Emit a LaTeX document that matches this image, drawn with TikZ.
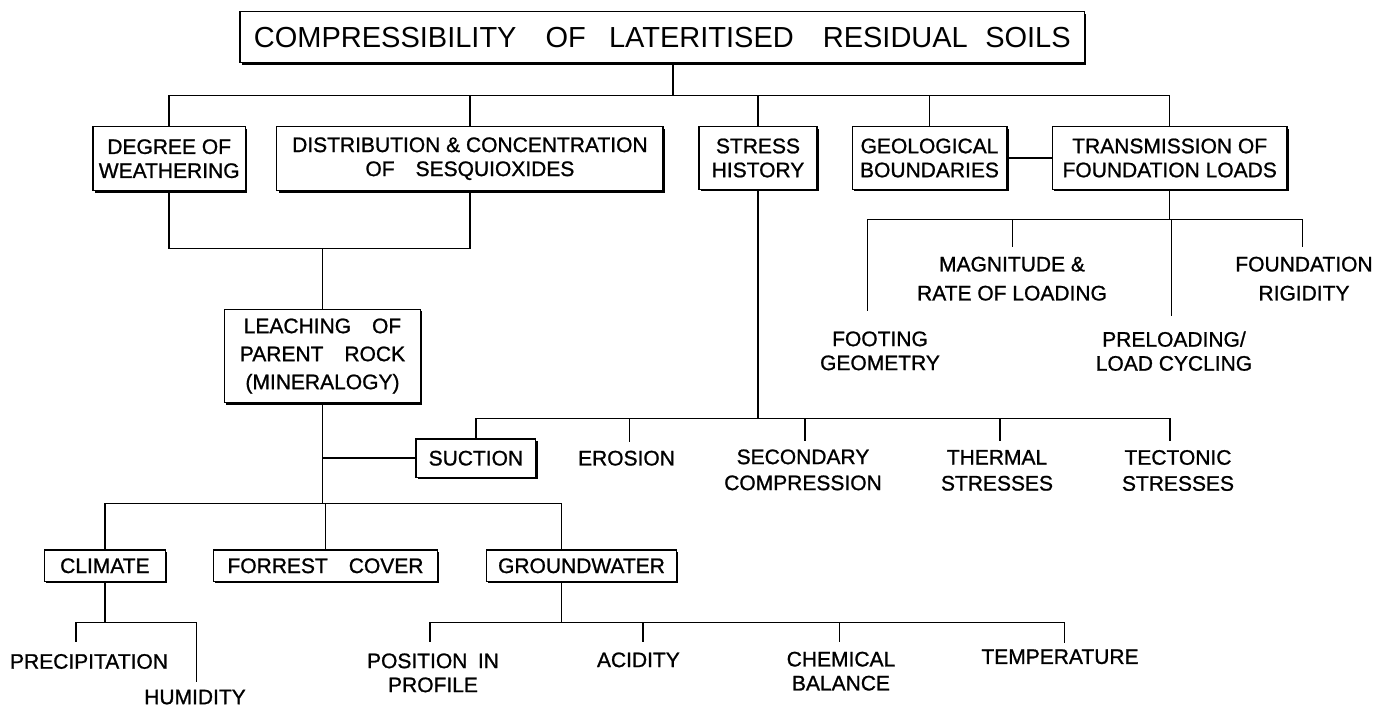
\documentclass[tikz,border=0pt]{standalone}
\usepackage{fontspec}
\setmainfont{Liberation Sans}
\newfontfamily\lblfam[FakeBold=1]{Liberation Sans}
\usetikzlibrary{shadows}
\newcommand{\lblfont}{\lblfam\fontsize{21}{24}\selectfont}
\def\stem(#1)(#2)(#3:#4){\path ([xshift=#3pt]#1.north) coordinate (#1s); \draw (#1s |- #2) -- ([yshift=#4pt]#1s);}

\begin{document}
\begin{tikzpicture}[x=1pt,y=-1pt,line width=1.5pt,line cap=rect,
	box/.style={draw,fill=white,line width=1.3pt,font=\lblfont,align=center,inner sep=0pt,
		drop shadow={shadow xshift=1.8pt,shadow yshift=-1.8pt,opacity=1,fill=black}},
	leaf/.style={font=\lblfont,align=center,inner sep=0pt,anchor=north}]
		%%%%% START %%%%%
		\useasboundingbox (0,0) rectangle (1385,707);
		
		\coordinate (topbus) at (0,95.7);
		\coordinate (fbus) at (0,219.3);
		\coordinate (jbus) at (0,248.3);
		\coordinate (sbus) at (0,418.7);
		\coordinate (lbus) at (0,503.3);
		\coordinate (cbus) at (0,622.7);
		\coordinate (gbus) at (0,622.7);
		
		\node[box,minimum width=844.7pt,minimum height=51pt,font=\fontsize{29}{30}\selectfont] (title) at (662.3,37.2)
			{COMPRESSIBILITY\hspace{1em}OF\hspace{.8em}LATERITISED\hspace{1em}RESIDUAL\hspace{.6em}SOILS};
		
		\node[box,minimum width=152.6pt,minimum height=64pt] (deg) at (169.2,158.7) {DEGREE OF\\WEATHERING};
		\node[box,minimum width=386.2pt,minimum height=64pt] (dist) at (469.9,158.7) {DISTRIBUTION \& CONCENTRATION\\OF\quad SESQUIOXIDES};
		\node[box,minimum width=118.2pt,minimum height=62.6pt] (stress) at (758,158) {STRESS\\HISTORY};
		\node[box,minimum width=154.7pt,minimum height=62.6pt] (geo) at (929.5,158) {GEOLOGICAL\\BOUNDARIES};
		\node[box,minimum width=234.7pt,minimum height=62.6pt] (trans) at (1169.7,158) {TRANSMISSION OF\\FOUNDATION LOADS};
		
		\node[box,minimum width=195.9pt,minimum height=93.4pt,font=\lblfam\fontsize{21}{28}\selectfont] (leach) at (322.5,356)
			{LEACHING\quad OF\\PARENT\quad ROCK\\(MINERALOGY)};
		\node[box,minimum width=119.7pt,minimum height=38.3pt] (suction) at (475.9,458.2) {SUCTION};
		
		\node[box,minimum width=120.6pt,minimum height=31.7pt] (climate) at (104.9,565.8) {CLIMATE};
		\node[box,minimum width=224.1pt,minimum height=31.7pt] (forrest) at (325.5,565.8) {FORREST\quad COVER};
		\node[box,minimum width=189.7pt,minimum height=31.7pt] (gw) at (581.5,565.8) {GROUNDWATER};
		
		\node[leaf,font=\lblfam\fontsize{21}{29}\selectfont] (mag) at (1012,256) {MAGNITUDE \&\\RATE OF LOADING};
		\node[leaf,font=\lblfam\fontsize{21}{29}\selectfont] (found) at (1304,256) {FOUNDATION\\RIGIDITY};
		\node[leaf] (foot) at (880,330.7) {FOOTING\\GEOMETRY};
		\node[leaf] (prel) at (1174,330.7) {PRELOADING/\\LOAD CYCLING};
		
		\node[leaf] (erosion) at (626.5,450) {EROSION};
		\node[leaf,font=\lblfam\fontsize{21}{26}\selectfont] (second) at (803,448.7) {SECONDARY\\COMPRESSION};
		\node[leaf,font=\lblfam\fontsize{21}{26}\selectfont] (thermal) at (997,449.3) {THERMAL\\STRESSES};
		\node[leaf,font=\lblfam\fontsize{21}{26}\selectfont] (tect) at (1178,449.3) {TECTONIC\\STRESSES};
		
		\node[leaf] (precip) at (89,653.3) {PRECIPITATION};
		\node[leaf] (humid) at (195,689) {HUMIDITY};
		\node[leaf] (pos) at (433,652.7) {POSITION\enspace IN\\PROFILE};
		\node[leaf] (acid) at (638.4,651.7) {ACIDITY};
		\node[leaf] (chem) at (841,651) {CHEMICAL\\BALANCE};
		\node[leaf] (temp) at (1060,648.7) {TEMPERATURE};
		
		% first row
		\path ([xshift=10.5pt]title.south) coordinate (titles);
		\draw (titles) -- (titles |- topbus);
		\draw (deg.north) -- (deg.north |- topbus) -- (trans.north |- topbus) -- (trans.north);
		\foreach \n in {dist,stress,geo} \draw (\n.north) -- (\n.north |- topbus);
		\draw (geo) -- (trans);
		
		% foundation loads
		\draw (trans.south) -- (trans.south |- fbus);
		\stem(foot)(fbus)(-12.5:20)
		\stem(mag)(fbus)(0.7:10)
		\stem(prel)(fbus)(-2.5:15.7)
		\stem(found)(fbus)(-1.3:9.3)
		\draw (foots |- fbus) -- (founds |- fbus);
		
		% leaching
		\draw (deg.south) -- (deg.south |- jbus) -- (dist.south |- jbus) -- (dist.south);
		\draw (leach.north) -- (leach.north |- jbus);
		
		% stress history
		\draw (stress.south) -- (stress.south |- sbus);
		\stem(erosion)(sbus)(3:9)
		\stem(second)(sbus)(2:8.7)
		\stem(thermal)(sbus)(3.1:9.3)
		\stem(tect)(sbus)(-7.9:9.3)
		\draw (suction.north) -- (suction.north |- sbus) -- (tects |- sbus);
		
		% below leaching
		\draw (leach.south) -- (leach.south |- lbus);
		\draw (leach.south |- suction.west) -- (suction.west);
		\path ([xshift=-20pt]gw.north) coordinate (gwn);
		\draw (climate.north) -- (climate.north |- lbus) -- (gwn |- lbus) -- (gwn);
		\draw (forrest.north) -- (forrest.north |- lbus);
		
		% climate
		\draw (climate.south) -- (climate.south |- cbus);
		\stem(precip)(cbus)(-13.1:11.6)
		\stem(humid)(cbus)(1.4:7.3)
		\draw (precips |- cbus) -- (humids |- cbus);
		
		% groundwater
		\path ([xshift=-20pt]gw.south) coordinate (gws);
		\draw (gws) -- (gws |- gbus);
		\stem(pos)(gbus)(-3.1:11)
		\stem(acid)(gbus)(4.5:10)
		\stem(chem)(gbus)(-1.4:9.3)
		\stem(temp)(gbus)(4.4:6)
		\draw (poss |- gbus) -- (temps |- gbus);
		
		%%%%% END %%%%%
\end{tikzpicture}
\end{document}
